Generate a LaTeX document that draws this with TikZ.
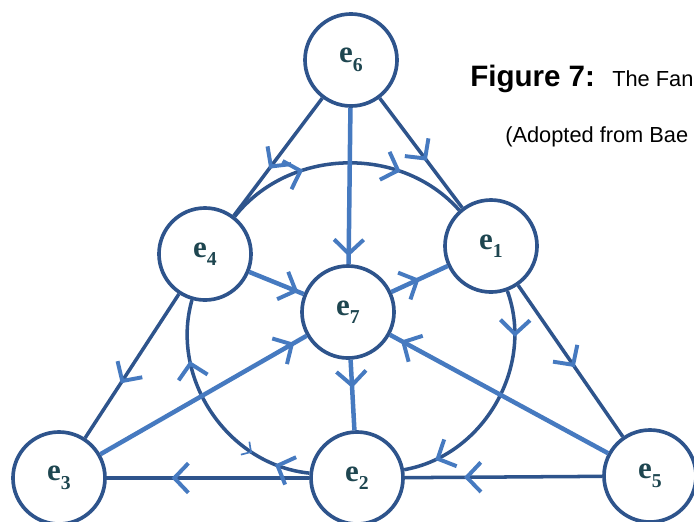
\documentclass[tikz,border=0pt]{standalone}
\usepackage{fontspec}
\setmainfont{Liberation Serif}
\newfontfamily\capfont{Liberation Sans}
\usetikzlibrary{arrows.meta,decorations.markings}

\definecolor{ringblue}{RGB}{46,84,140}
\definecolor{armblue}{RGB}{70,122,192}
\definecolor{labelteal}{RGB}{30,70,80}

\newcommand{\ev}[1]{e\raisebox{-0.6ex}{\fontsize{14}{14}\selectfont #1}}

\tikzset{
  vtx/.style={circle,draw=ringblue,line width=2.6pt,fill=white,minimum size=2.3cm,
    inner sep=0pt,text=labelteal,font=\fontsize{22}{22}\selectfont\bfseries},
  side/.style={draw=ringblue,line width=2.5pt},
  spoke/.style={draw=armblue,line width=3.2pt},
  tipat/.style={postaction={decorate,decoration={markings,
    mark=at position #1 with {\arrow[armblue,line width=2.8pt]{Straight Barb[length=10pt,width=21pt]}}}}},
  backtip/.style={postaction={decorate,decoration={markings,
    mark=at position #1 with {\arrowreversed[armblue,line width=1.2pt]{Straight Barb[length=5pt,width=11pt]}}}}},
}

\begin{document}
\begin{tikzpicture}[x=0.025cm,y=-0.025cm]
  \useasboundingbox (0,0) rectangle (694,521);

  \node[vtx] (e6) at (351,60)  {\ev{6}};
  \node[vtx] (e4) at (205,254) {\ev{4}};
  \node[vtx] (e1) at (491,246) {\ev{1}};
  \node[vtx] (e7) at (348,312) {\ev{7}};
  \node[vtx] (e3) at (59,478)  {\ev{3}};
  \node[vtx] (e2) at (357,478) {\ev{2}};
  \node[vtx] (e5) at (650,476) {\ev{5}};

  % triangle sides
  \begin{scope}[every edge/.style={side}]
    \path (e6) edge[tipat=0.6]  (e4);
    \path (e4) edge[tipat=0.62] (e3);
    \path (e6) edge[tipat=0.57] (e1);
    \path (e1) edge[tipat=0.54] (e5);
    \path (e5) edge[tipat=0.7]  (e2);
    \path (e2) edge[tipat=0.68] (e3);
  \end{scope}

  % circle through e4, e1, e2
  \begin{scope}[every edge/.style={side}]
    \path (e4) edge[bend left=50,tipat=0.33,tipat=0.72] (e1);
    \path (e1) edge[bend left=50,tipat=0.2,tipat=0.86]  (e2);
    \path (e2) edge[bend left=50,tipat=0.15,backtip=0.26,tipat=0.74] (e4);
  \end{scope}

  % lines through e7
  \begin{scope}[every edge/.style={spoke}]
    \path (e6) edge[tipat=0.95] (e7);
    \path (e7) edge[tipat=0.4]  (e2);
    \path (e4) edge[tipat=0.9]  (e7);
    \path (e7) edge[tipat=0.5]  (e1);
    \path (e3) edge[tipat=0.94] (e7);
    \path (e5) edge[tipat=0.95] (e7);
  \end{scope}

  \node[anchor=base west,inner sep=0pt,font=\capfont\bfseries\fontsize{21}{21}\selectfont] (fig) at (470,86) {Figure 7:};
  \node[anchor=base west,inner sep=0pt,font=\capfont\fontsize{15.5}{15.5}\selectfont] (title) at (612,86) {The Fan};
  \node[anchor=base west,inner sep=0pt,font=\capfont\fontsize{15.5}{15.5}\selectfont] (src) at (505,142) {(Adopted from Bae};
\end{tikzpicture}
\end{document}
